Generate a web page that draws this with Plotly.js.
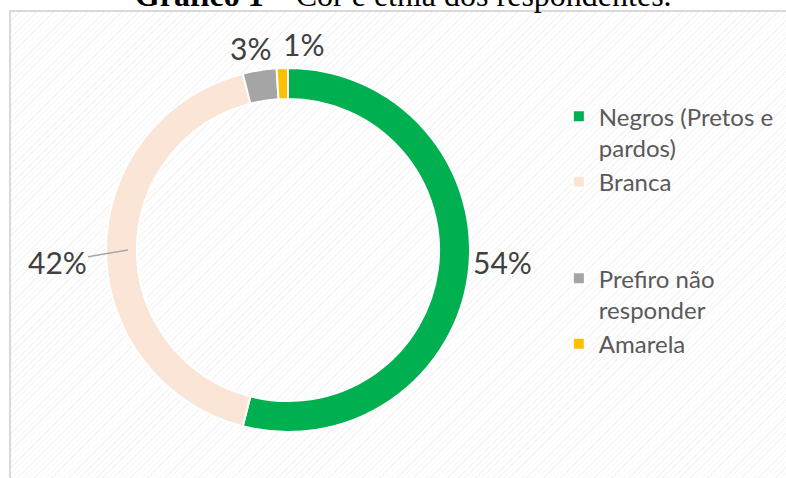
<!DOCTYPE html>
<html>
<head>
<meta charset="utf-8">
<script src="https://cdn.plot.ly/plotly-3.0.1.min.js"></script>
<style>
  html, body { margin: 0; padding: 0; background: #ffffff; }
  #wrap { position: relative; width: 786px; height: 478px; overflow: hidden; }
  #frame {
    position: absolute; left: 9px; top: 10px; width: 800px; height: 500px;
    border: 2px solid #d9d9d9; box-sizing: border-box;
    background: repeating-linear-gradient(-45deg, #ffffff 0px, #ffffff 3px, #f5f5f5 3px, #f5f5f5 4px);
  }
  #chart { position: absolute; left: 0; top: 0; width: 786px; height: 478px; }
</style>
</head>
<body>
<div id="wrap">
  <div id="frame"></div>
  <div id="chart"></div>
</div>
<script>
const categories = ["Negros (Pretos e<br>pardos)", "Branca<br> <br> ", "Prefiro não<br>responder", "Amarela"];
const values = [54, 42, 3, 1];
const colors = ["#00B050", "#FBE5D6", "#A5A5A5", "#FFC000"];
const titleText = "<b>Gráfico 1</b> – Cor e etnia dos respondentes.";

const W = 786, H = 478;
const cx = 288, cy = 250, r = 182;
const labelFont = { family: "Lato, 'Open Sans', sans-serif", size: 30, color: "#404040" };

// percentage labels placed from the slice geometry (start at 12 o'clock, clockwise)
const total = values.reduce((a, b) => a + b, 0);
const toPaper = (px, py) => ({ x: px / W, y: 1 - py / H });
const annotations = [];
let cum = 0;
values.forEach((v, i) => {
  const a0 = cum / total * 2 * Math.PI;
  cum += v;
  const a1 = cum / total * 2 * Math.PI;
  const mid = (a0 + a1) / 2;
  const text = Math.round(v / total * 100) + "%";
  const at = (ang, R) => toPaper(cx + R * Math.sin(ang), cy - R * Math.cos(ang));
  let ann;
  if (i === 0) {
    const p = at(mid, r + 2);
    ann = { x: p.x, y: p.y, xanchor: "left", yanchor: "middle", yshift: 11, showarrow: false };
  } else if (i === 1) {
    const p = at(mid, r - 22);
    ann = { x: p.x, y: p.y, showarrow: true, arrowhead: 0, arrowwidth: 1.5, arrowcolor: "#a6a6a6",
            ax: -71, ay: 12, standoff: 0 };
  } else if (i === 2) {
    const p = at(a1, r);
    ann = { x: p.x, y: p.y, xanchor: "right", yanchor: "bottom", xshift: -4, showarrow: false };
  } else {
    const p = at(a1, r + 4);
    ann = { x: p.x, y: p.y, xanchor: "left", yanchor: "bottom", xshift: -7, showarrow: false };
  }
  annotations.push(Object.assign({ xref: "paper", yref: "paper", text: text, font: labelFont }, ann));
});

const trace = {
  type: "pie",
  labels: categories,
  values: values,
  sort: false,
  direction: "clockwise",
  rotation: 0,
  hole: 0.83,
  marker: { colors: colors, line: { color: "#ffffff", width: 2 } },
  textinfo: "none",
  domain: { x: [(cx - r) / W, (cx + r) / W], y: [(H - cy - r) / H, (H - cy + r) / H] },
  hoverinfo: "none"
};

const layout = {
  width: W, height: H,
  margin: { l: 0, r: 0, t: 0, b: 0 },
  paper_bgcolor: "rgba(0,0,0,0)",
  plot_bgcolor: "rgba(0,0,0,0)",
  title: {
    text: titleText,
    font: { family: "'Liberation Serif', 'Times New Roman', serif", size: 32, color: "#000000" },
    x: 0.513, xanchor: "center", xref: "container",
    y: 0.988, yanchor: "bottom", yref: "container"
  },
  annotations: annotations,
  showlegend: true,
  legend: {
    x: 0.711, xanchor: "left",
    y: 0.803, yanchor: "top",
    valign: "top",
    font: { family: "Lato, 'Open Sans', sans-serif", size: 24, color: "#595959" },
    bgcolor: "rgba(0,0,0,0)",
    traceorder: "normal"
  }
};

Plotly.newPlot("chart", [trace], layout, { staticPlot: true, displayModeBar: false });
</script>
</body>
</html>
